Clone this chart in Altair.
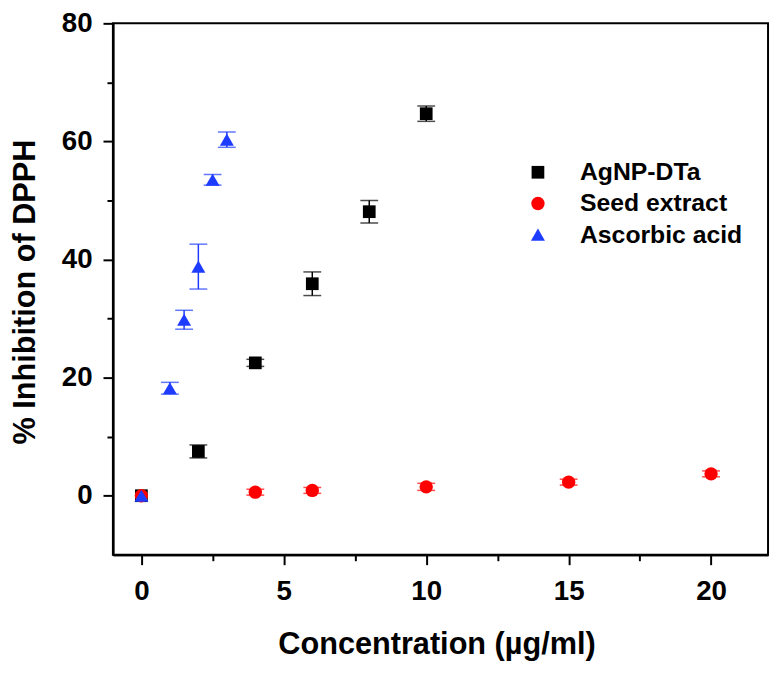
import altair as alt
import pandas as pd

series_names = ["AgNP-DTa", "Seed extract", "Ascorbic acid"]
series_colors = ["#000000", "#ff0000", "#1e3cff"]
series_shapes = ["square", "circle", "triangle-up"]

agnp_x = [0, 2, 4, 6, 8, 10]
agnp_y = [0, 7.5, 22.5, 35.9, 48.1, 64.7]
agnp_err = [0, 1.1, 0.6, 2.0, 1.9, 1.3]

seed_x = [0, 4, 6, 10, 15, 20]
seed_y = [0, 0.6, 0.9, 1.5, 2.3, 3.7]
seed_err = [0, 0.5, 0.5, 0.6, 0.5, 0.5]

asc_x = [0, 1, 1.5, 2, 2.5, 3]
asc_y = [0, 18.2, 29.8, 38.8, 53.5, 60.3]
asc_err = [0, 1.0, 1.6, 3.8, 0.9, 1.3]

x_major_ticks = [0, 5, 10, 15, 20]
x_minor_ticks = [2.5, 7.5, 12.5, 17.5]
y_major_ticks = [0, 20, 40, 60, 80]
y_minor_ticks = [10, 30, 50, 70]

rows = []
for name, xs, ys, es in [
    ("AgNP-DTa", agnp_x, agnp_y, agnp_err),
    ("Seed extract", seed_x, seed_y, seed_err),
    ("Ascorbic acid", asc_x, asc_y, asc_err),
]:
    for x, y, e in zip(xs, ys, es):
        rows.append(dict(series=name, conc=x, inh=y, lo=y - e, hi=y + e, err=e))
df = pd.DataFrame(rows)

FONT = "Liberation Sans"

xscale = alt.Scale(domain=[-1, 22], nice=False, zero=False)
yscale = alt.Scale(domain=[-10, 80], nice=False, zero=False)
color_scale = alt.Scale(domain=series_names, range=series_colors)
shape_scale = alt.Scale(domain=series_names, range=series_shapes)
size_scale = alt.Scale(domain=series_names, range=[165, 200, 310])

x_major = alt.Axis(
    values=x_major_ticks, orient="bottom", grid=False,
    title="Concentration (µg/ml)", titleFont=FONT, titleFontSize=31,
    titleFontWeight="bold", titleColor="black", titleX=327, titleY=76,
    labelFont=FONT, labelFontSize=28, labelFontWeight="bold", labelColor="black",
    labelPadding=13, labelFlush=False,
    tickSize=10, tickWidth=2, tickColor="black",
    domainColor="black", domainWidth=2,
)
y_major = alt.Axis(
    values=y_major_ticks, orient="left", grid=False,
    title="% Inhibition of DPPH", titleFont=FONT, titleFontSize=31,
    titleFontWeight="bold", titleColor="black", titleX=-72, titleY=271,
    labelFont=FONT, labelFontSize=28, labelFontWeight="bold", labelColor="black",
    labelPadding=11, labelFlush=False,
    tickSize=10, tickWidth=2, tickColor="black",
    domainColor="black", domainWidth=2,
)
x_minor = alt.Axis(
    values=x_minor_ticks, orient="bottom", grid=False, labels=False, title=None,
    tickSize=6, tickWidth=2, tickColor="black", domainColor="black", domainWidth=2,
)
y_minor = alt.Axis(
    values=y_minor_ticks, orient="left", grid=False, labels=False, title=None,
    tickSize=6, tickWidth=2, tickColor="black", domainColor="black", domainWidth=2,
)

legend = alt.Legend(
    title=None, orient="none", legendX=417, legendY=138, padding=0,
    labelFont=FONT, labelFontSize=25, labelFontWeight="bold", labelColor="black",
    labelOffset=30, labelLimit=400, rowPadding=5.5, symbolStrokeWidth=0, symbolOpacity=1,
)

base = alt.Chart(df)
color_enc = alt.Color("series:N", scale=color_scale, legend=legend, sort=series_names)

rules = base.mark_rule(strokeWidth=1.5).encode(
    x=alt.X("conc:Q", scale=xscale, axis=x_minor),
    y=alt.Y("lo:Q", scale=yscale, axis=y_minor),
    y2="hi:Q",
    color=color_enc,
)

caps_lo = base.transform_filter("datum.err > 0").mark_tick(
    orient="horizontal", size=18, thickness=1.5
).encode(
    x=alt.X("conc:Q", scale=xscale, axis=None),
    y=alt.Y("lo:Q", scale=yscale, axis=None),
    color=color_enc,
)
caps_hi = base.transform_filter("datum.err > 0").mark_tick(
    orient="horizontal", size=18, thickness=1.5
).encode(
    x=alt.X("conc:Q", scale=xscale, axis=None),
    y=alt.Y("hi:Q", scale=yscale, axis=None),
    color=color_enc,
)

points = base.mark_point(filled=True, opacity=1).encode(
    x=alt.X("conc:Q", scale=xscale, axis=x_major),
    y=alt.Y("inh:Q", scale=yscale, axis=y_major),
    color=color_enc,
    shape=alt.Shape("series:N", scale=shape_scale, legend=legend, sort=series_names),
    size=alt.Size("series:N", scale=size_scale, legend=legend, sort=series_names),
)

chart = (
    alt.layer(rules, caps_lo, caps_hi, points)
    .resolve_axis(x="independent", y="independent")
    .properties(
        width=662, height=537,
        padding={"left": 106, "top": 12, "right": 3, "bottom": 118},
        autosize=alt.AutoSizeParams(type="none"),
        background="white",
    )
    .configure_view(stroke="black", strokeWidth=2)
)

chart.save("out.html", embed_options={"renderer": "svg", "actions": False})
